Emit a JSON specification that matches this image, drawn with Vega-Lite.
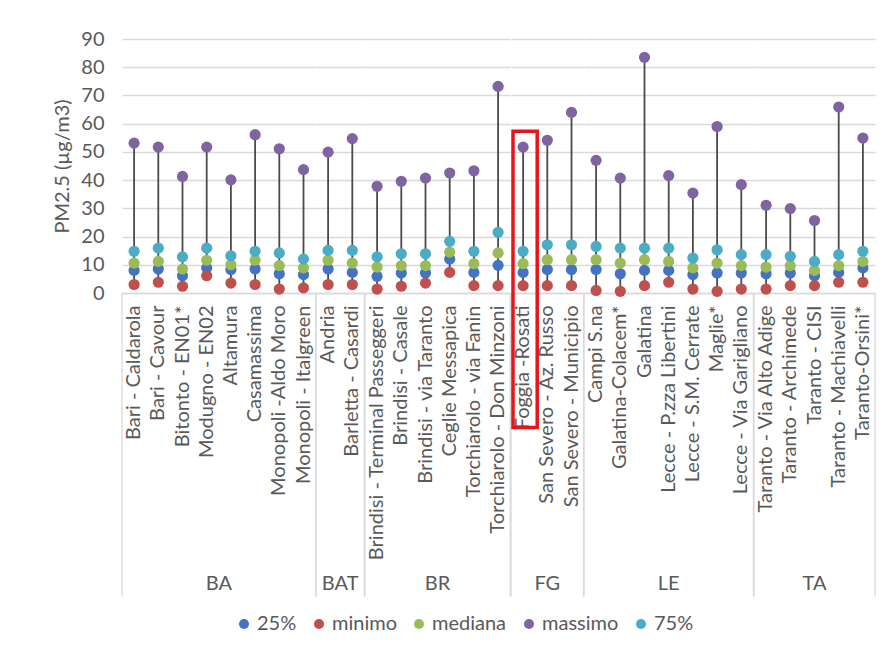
{
  "$schema": "https://vega.github.io/schema/vega-lite/v6.json",
  "padding": {"left": 52, "top": 29, "right": 0, "bottom": 0},
  "background": "#ffffff",
  "bounds": "flush",
  "data": {"values": [
    {"prov": "BA", "station": "Bari - Caldarola", "minimo": 3.0, "25%": 8.0, "mediana": 10.6, "75%": 14.8, "massimo": 53.1},
    {"prov": "BA", "station": "Bari - Cavour", "minimo": 3.8, "25%": 8.5, "mediana": 11.2, "75%": 15.9, "massimo": 51.7},
    {"prov": "BA", "station": "Bitonto - EN01*", "minimo": 2.4, "25%": 6.1, "mediana": 8.5, "75%": 12.8, "massimo": 41.3},
    {"prov": "BA", "station": "Modugno - EN02", "minimo": 6.1, "25%": 8.9, "mediana": 11.6, "75%": 15.9, "massimo": 51.7},
    {"prov": "BA", "station": "Altamura", "minimo": 3.5, "25%": 8.3, "mediana": 10.0, "75%": 13.2, "massimo": 40.1},
    {"prov": "BA", "station": "Casamassima", "minimo": 3.0, "25%": 8.5, "mediana": 11.6, "75%": 14.8, "massimo": 56.1},
    {"prov": "BA", "station": "Monopoli -Aldo Moro", "minimo": 1.4, "25%": 6.8, "mediana": 9.7, "75%": 14.2, "massimo": 51.1},
    {"prov": "BA", "station": "Monopoli - Italgreen", "minimo": 1.8, "25%": 6.5, "mediana": 8.9, "75%": 12.0, "massimo": 43.7},
    {"prov": "BAT", "station": "Andria", "minimo": 3.0, "25%": 8.5, "mediana": 11.6, "75%": 15.1, "massimo": 49.9},
    {"prov": "BAT", "station": "Barletta - Casardi", "minimo": 3.0, "25%": 7.3, "mediana": 10.6, "75%": 15.1, "massimo": 54.7},
    {"prov": "BR", "station": "Brindisi - Terminal Passeggeri", "minimo": 1.4, "25%": 5.9, "mediana": 9.2, "75%": 12.8, "massimo": 37.8},
    {"prov": "BR", "station": "Brindisi - Casale", "minimo": 2.4, "25%": 7.1, "mediana": 9.7, "75%": 13.9, "massimo": 39.6},
    {"prov": "BR", "station": "Brindisi - via Taranto", "minimo": 3.5, "25%": 7.1, "mediana": 9.7, "75%": 13.9, "massimo": 40.7},
    {"prov": "BR", "station": "Ceglie Messapica", "minimo": 7.3, "25%": 12.0, "mediana": 14.5, "75%": 18.3, "massimo": 42.5},
    {"prov": "BR", "station": "Torchiarolo - via Fanin", "minimo": 2.6, "25%": 7.3, "mediana": 10.4, "75%": 14.8, "massimo": 43.3},
    {"prov": "BR", "station": "Torchiarolo - Don Minzoni", "minimo": 2.6, "25%": 9.8, "mediana": 14.2, "75%": 21.5, "massimo": 73.2},
    {"prov": "FG", "station": "Foggia -Rosati", "minimo": 2.6, "25%": 7.3, "mediana": 10.4, "75%": 14.8, "massimo": 51.7},
    {"prov": "FG", "station": "San Severo - Az. Russo", "minimo": 2.6, "25%": 8.3, "mediana": 11.8, "75%": 17.1, "massimo": 54.1},
    {"prov": "FG", "station": "San Severo - Municipio", "minimo": 2.6, "25%": 8.3, "mediana": 11.8, "75%": 17.1, "massimo": 64.0},
    {"prov": "LE", "station": "Campi S.na", "minimo": 0.9, "25%": 8.3, "mediana": 11.8, "75%": 16.5, "massimo": 47.0},
    {"prov": "LE", "station": "Galatina-Colacem*", "minimo": 0.6, "25%": 6.8, "mediana": 10.6, "75%": 15.9, "massimo": 40.7},
    {"prov": "LE", "station": "Galatina", "minimo": 2.6, "25%": 8.0, "mediana": 11.8, "75%": 15.9, "massimo": 83.5},
    {"prov": "LE", "station": "Lecce - P.zza Libertini", "minimo": 3.8, "25%": 8.0, "mediana": 11.2, "75%": 15.9, "massimo": 41.6},
    {"prov": "LE", "station": "Lecce - S.M. Cerrate", "minimo": 1.4, "25%": 6.5, "mediana": 8.9, "75%": 12.4, "massimo": 35.4},
    {"prov": "LE", "station": "Maglie*", "minimo": 0.6, "25%": 7.1, "mediana": 10.6, "75%": 15.3, "massimo": 59.0},
    {"prov": "LE", "station": "Lecce - Via Garigliano", "minimo": 1.4, "25%": 7.1, "mediana": 9.7, "75%": 13.6, "massimo": 38.4},
    {"prov": "TA", "station": "Taranto - Via Alto Adige", "minimo": 1.4, "25%": 6.8, "mediana": 9.2, "75%": 13.6, "massimo": 31.1},
    {"prov": "TA", "station": "Taranto - Archimede", "minimo": 2.6, "25%": 7.1, "mediana": 9.7, "75%": 13.0, "massimo": 29.9},
    {"prov": "TA", "station": "Taranto - CISI", "minimo": 2.6, "25%": 6.1, "mediana": 8.0, "75%": 11.2, "massimo": 25.7},
    {"prov": "TA", "station": "Taranto - Machiavelli", "minimo": 3.8, "25%": 7.3, "mediana": 9.7, "75%": 13.6, "massimo": 65.9},
    {"prov": "TA", "station": "Taranto-Orsini*", "minimo": 3.8, "25%": 8.9, "mediana": 11.2, "75%": 14.8, "massimo": 54.9}
  ]},
  "facet": {
    "column": {
      "field": "prov",
      "type": "nominal",
      "sort": ["BA", "BAT", "BR", "FG", "LE", "TA"],
      "title": null,
      "header": {"labelOrient": "bottom", "labelFontSize": 20, "labelColor": "#595959", "labelFont": "Lato", "labelPadding": 281}
    }
  },
  "spacing": 0,
  "resolve": {"scale": {"x": "independent"}},
  "spec": {
    "width": {"step": 24.2},
    "height": 254,
    "layer": [
      {
        "mark": {"type": "rule", "color": "#4a4a4a", "strokeWidth": 1.8},
        "encoding": {
          "x": {
            "field": "station", "type": "nominal", "sort": null, "title": null,
            "scale": {"type": "band", "paddingInner": 0, "paddingOuter": 0},
            "axis": {"labelAngle": -90, "ticks": false, "domainColor": "#D9D9D9", "domainWidth": 1.3, "labelFontSize": 20, "labelColor": "#595959", "labelFont": "Lato", "labelPadding": 12, "labelLimit": 400}
          },
          "y": {
            "field": "minimo", "type": "quantitative",
            "scale": {"domain": [0, 90], "nice": false},
            "title": "PM2.5 (µg/m3)",
            "axis": {"values": [0, 10, 20, 30, 40, 50, 60, 70, 80, 90], "tickCount": 10, "grid": true, "gridColor": "#D9D9D9", "gridWidth": 1.3, "domain": false, "ticks": false, "labelFontSize": 20, "labelColor": "#595959", "labelFont": "Lato", "labelPadding": 18, "titleFontSize": 20, "titleFont": "Lato", "titleFontWeight": "normal", "titleColor": "#595959", "titlePadding": 8}
          },
          "y2": {"field": "massimo"}
        }
      },
      {
        "transform": [
          {"fold": ["25%", "minimo", "mediana", "massimo", "75%"], "as": ["serie", "valore"]}
        ],
        "mark": {"type": "circle", "opacity": 1, "size": 125},
        "encoding": {
          "x": {"field": "station", "type": "nominal", "sort": null},
          "y": {
            "field": "valore", "type": "quantitative",
            "title": "PM2.5 (µg/m3)",
            "axis": {"values": [0, 10, 20, 30, 40, 50, 60, 70, 80, 90], "tickCount": 10, "grid": true, "gridColor": "#D9D9D9", "gridWidth": 1.3, "domain": false, "ticks": false, "labelFontSize": 20, "labelColor": "#595959", "labelFont": "Lato", "labelPadding": 18, "titleFontSize": 20, "titleFont": "Lato", "titleFontWeight": "normal", "titleColor": "#595959", "titlePadding": 8}
          },
          "color": {
            "field": "serie", "type": "nominal",
            "scale": {"domain": ["25%", "minimo", "mediana", "massimo", "75%"], "range": ["#4472C4", "#C0504D", "#9BBB59", "#8064A2", "#4BACC6"]},
            "legend": {"title": null, "orient": "bottom", "direction": "horizontal", "labelFontSize": 20, "labelColor": "#595959", "labelFont": "Lato", "symbolType": "circle", "symbolSize": 100, "columnPadding": 12, "labelOffset": 3, "offset": 16}
          }
        }
      },
      {
        "transform": [
          {"window": [{"op": "row_number", "as": "rn"}], "groupby": ["prov"]},
          {"filter": "datum.rn == 1"}
        ],
        "mark": {"type": "rule", "color": "#D9D9D9", "strokeWidth": 1.3, "clip": false},
        "encoding": {
          "x": {"field": "station", "type": "nominal", "sort": null, "bandPosition": 0},
          "y": {"datum": 0},
          "y2": {"datum": -107.5}
        }
      },
      {
        "transform": [
          {"window": [{"op": "row_number", "as": "rn"}], "groupby": ["prov"]},
          {"joinaggregate": [{"op": "count", "as": "n"}], "groupby": ["prov"]},
          {"filter": "datum.rn == datum.n"}
        ],
        "mark": {"type": "rule", "color": "#D9D9D9", "strokeWidth": 1.3, "clip": false},
        "encoding": {
          "x": {"field": "station", "type": "nominal", "sort": null, "bandPosition": 1},
          "y": {"datum": 0},
          "y2": {"datum": -107.5}
        }
      },
      {
        "transform": [{"filter": "datum.station == 'Foggia -Rosati'"}],
        "mark": {"type": "rect", "filled": false, "stroke": "#E8141B", "strokeWidth": 3.5, "clip": false, "xOffset": 2},
        "encoding": {
          "x": {"field": "station", "type": "nominal", "sort": null},
          "y": {"datum": 57.3},
          "y2": {"datum": -47.7}
        }
      }
    ]
  },
  "config": {
    "view": {"stroke": null},
    "legend": {"layout": {"bottom": {"anchor": "middle"}}}
  }
}
